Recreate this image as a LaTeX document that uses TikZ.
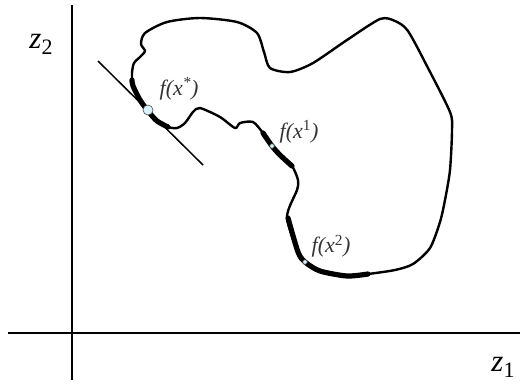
\documentclass[tikz,border=0pt]{standalone}
\usepackage{fontspec}
\setmainfont{Liberation Serif}
\begin{document}
\begin{tikzpicture}[x=1pt,y=-1pt,
  curve/.style={line width=2.4pt,line join=round,line cap=round},
  thickseg/.style={line width=5.2pt,line cap=round},
  axis/.style={line width=1.5pt},
  lbl/.style={text=black!80,font=\fontsize{22}{22}\selectfont\itshape,inner sep=0pt},
  dot/.style={circle,draw=black!70,fill=cyan!15!white,inner sep=0pt,line width=0.6pt}]
\useasboundingbox (0,0) rectangle (522,384);
% axes
\coordinate (ya) at (72,5);
\coordinate (yb) at (72,380);
\coordinate (xa) at (8,333);
\coordinate (xb) at (520,333);
\draw[axis] (ya) -- (yb);
\draw[axis] (xa) -- (xb);
\node[inner sep=0pt] (z2) at (41,44) {{\fontsize{31}{31}\selectfont\textit{z}}\raisebox{-6pt}{\fontsize{22}{22}\selectfont 2}};
\node[inner sep=0pt] (z1) at (503,367) {{\fontsize{31}{31}\selectfont\textit{z}}\raisebox{-6pt}{\fontsize{22}{22}\selectfont 1}};
% closed curve
\draw[curve] plot[smooth cycle,tension=0.45] coordinates {
(145,33) (167,22) (200,18) (237,22) (257,33) (264,52) (270,68) (290,72)
(313,63) (347,40) (380,19) (395,21) (408,31) (428,68) (450,112) (452,130)
(450,170) (445,200) (440,222) (430,248) (413,264) (395,270) (368,274)
(347,276) (320,271) (305,262) (298,252) (287,217) (297,190) (298,180)
(292,166) (280,155) (272,146) (263,133) (253,122) (240,123) (235,128)
(220,117) (200,108) (193,112) (185,123) (177,128) (168,127) (157,121)
(148,111) (140,100) (133,86) (132,73) (134,63) (140,57) (145,51) (141,44)};
% thick segments
\draw[thickseg] plot[smooth,tension=0.45] coordinates {(132,80) (133,86) (140,100) (148,111) (157,121) (168,127)};
\draw[thickseg] plot[smooth,tension=0.45] coordinates {(263,133) (272,146) (280,155) (292,166)};
\draw[thickseg] plot[smooth,tension=0.45] coordinates {(288,218) (298,252) (305,262) (320,271) (347,276) (368,274)};
% tangent line
\coordinate (ta) at (98,61);
\coordinate (tb) at (203,165);
\draw[axis] (ta) -- (tb);
% points
\node[dot,minimum size=10pt] (ps) at (148,110) {};
\node[dot,minimum size=4.5pt] (p1) at (272,146) {};
\node[dot,minimum size=4.5pt] (p2) at (305,262) {};
% labels
\node[lbl] (ls) at (179,89) {f(x\textsuperscript{*})};
\node[lbl] (l1) at (299,132) {f(x\textsuperscript{\upshape 1})};
\node[lbl] (l2) at (331,246) {f(x\textsuperscript{\upshape 2})};
\end{tikzpicture}
\end{document}
